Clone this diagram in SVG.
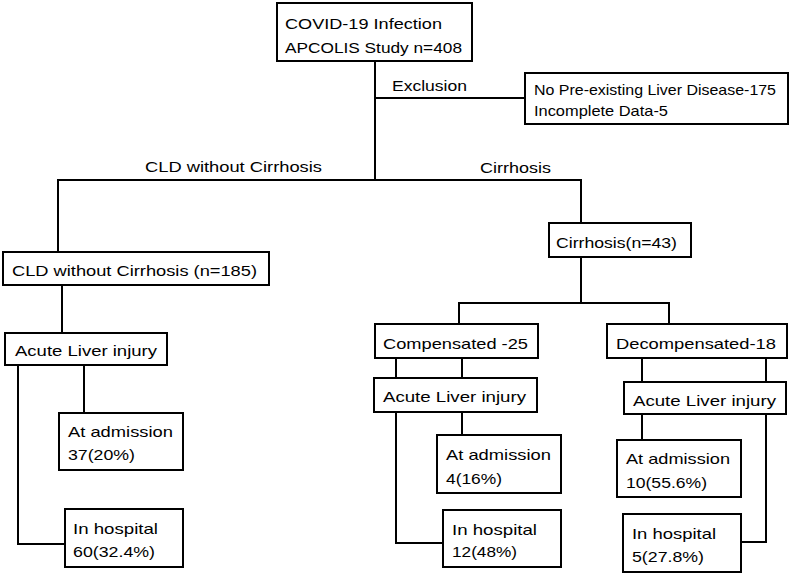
<svg xmlns="http://www.w3.org/2000/svg" width="792" height="577" viewBox="0 0 792 577">
<style>
.box{fill:#fff;stroke:#000;stroke-width:2}
.ln{fill:none;stroke:#000;stroke-width:2}
text{font-family:"Liberation Sans",Arial,sans-serif;font-size:15px;fill:#000}
</style>
<rect width="792" height="577" fill="#fff"/>
<g id="connectors">
<path class="ln" d="M375,61 V180"/>
<path class="ln" d="M375,98 H525"/>
<path class="ln" d="M58,252 V180 H581 V223"/>
<path class="ln" d="M62,285 V333"/>
<path class="ln" d="M18,365 V544 H65"/>
<path class="ln" d="M84,365 V413"/>
<path class="ln" d="M581,257 V303"/>
<path class="ln" d="M459,324 V303 H669 V324"/>
<path class="ln" d="M396,358 V378"/>
<path class="ln" d="M462,358 V378"/>
<path class="ln" d="M642,358 V382"/>
<path class="ln" d="M766,358 V382"/>
<path class="ln" d="M396,412 V543 H443"/>
<path class="ln" d="M462,412 V435"/>
<path class="ln" d="M642,414 V440"/>
<path class="ln" d="M766,414 V542 H741"/>
<text x="145" y="172" textLength="177" lengthAdjust="spacingAndGlyphs">CLD without Cirrhosis</text>
<text x="480" y="173" textLength="71" lengthAdjust="spacingAndGlyphs">Cirrhosis</text>
<text x="392" y="91" textLength="75" lengthAdjust="spacingAndGlyphs">Exclusion</text>
</g>
<g id="n-top">
<rect class="box" x="277" y="3" width="195" height="58"/>
<text x="285" y="29" textLength="157" lengthAdjust="spacingAndGlyphs">COVID-19 Infection</text>
<text x="285" y="53" textLength="177" lengthAdjust="spacingAndGlyphs">APCOLIS Study n=408</text>
</g>
<g id="n-excl">
<rect class="box" x="525" y="73" width="263" height="51"/>
<text x="534" y="95" textLength="242" lengthAdjust="spacingAndGlyphs">No Pre-existing Liver Disease-175</text>
<text x="534" y="116" textLength="134" lengthAdjust="spacingAndGlyphs">Incomplete Data-5</text>
</g>
<g id="n-cld">
<rect class="box" x="3" y="252" width="266" height="33"/>
<text x="12" y="276" textLength="245" lengthAdjust="spacingAndGlyphs">CLD without Cirrhosis (n=185)</text>
</g>
<g id="n-cirr">
<rect class="box" x="549" y="223" width="142" height="34"/>
<text x="556" y="248" textLength="121" lengthAdjust="spacingAndGlyphs">Cirrhosis(n=43)</text>
</g>
<g id="n-ali1">
<rect class="box" x="5" y="333" width="162" height="32"/>
<text x="15" y="356" textLength="142" lengthAdjust="spacingAndGlyphs">Acute Liver injury</text>
</g>
<g id="n-adm1">
<rect class="box" x="59" y="413" width="124" height="57"/>
<text x="68" y="437" textLength="105" lengthAdjust="spacingAndGlyphs">At admission</text>
<text x="68" y="460" textLength="67" lengthAdjust="spacingAndGlyphs">37(20%)</text>
</g>
<g id="n-hosp1">
<rect class="box" x="65" y="509" width="118" height="58"/>
<text x="73" y="534" textLength="85" lengthAdjust="spacingAndGlyphs">In hospital</text>
<text x="73" y="557" textLength="82" lengthAdjust="spacingAndGlyphs">60(32.4%)</text>
</g>
<g id="n-comp">
<rect class="box" x="375" y="324" width="163" height="34"/>
<text x="383" y="349" textLength="145" lengthAdjust="spacingAndGlyphs">Compensated -25</text>
</g>
<g id="n-decomp">
<rect class="box" x="607" y="324" width="180" height="34"/>
<text x="616" y="349" textLength="160" lengthAdjust="spacingAndGlyphs">Decompensated-18</text>
</g>
<g id="n-ali2">
<rect class="box" x="374" y="378" width="163" height="34"/>
<text x="383" y="402" textLength="143" lengthAdjust="spacingAndGlyphs">Acute Liver injury</text>
</g>
<g id="n-ali3">
<rect class="box" x="624" y="382" width="162" height="32"/>
<text x="633" y="406" textLength="143" lengthAdjust="spacingAndGlyphs">Acute Liver injury</text>
</g>
<g id="n-adm2">
<rect class="box" x="437" y="435" width="124" height="58"/>
<text x="446" y="460" textLength="105" lengthAdjust="spacingAndGlyphs">At admission</text>
<text x="446" y="484" textLength="56" lengthAdjust="spacingAndGlyphs">4(16%)</text>
</g>
<g id="n-hosp2">
<rect class="box" x="443" y="510" width="118" height="57"/>
<text x="452" y="535" textLength="85" lengthAdjust="spacingAndGlyphs">In hospital</text>
<text x="452" y="557" textLength="65" lengthAdjust="spacingAndGlyphs">12(48%)</text>
</g>
<g id="n-adm3">
<rect class="box" x="617" y="440" width="124" height="57"/>
<text x="626" y="464" textLength="104" lengthAdjust="spacingAndGlyphs">At admission</text>
<text x="626" y="488" textLength="81" lengthAdjust="spacingAndGlyphs">10(55.6%)</text>
</g>
<g id="n-hosp3">
<rect class="box" x="623" y="514" width="118" height="58"/>
<text x="632" y="539" textLength="84" lengthAdjust="spacingAndGlyphs">In hospital</text>
<text x="632" y="562" textLength="72" lengthAdjust="spacingAndGlyphs">5(27.8%)</text>
</g>
</svg>
